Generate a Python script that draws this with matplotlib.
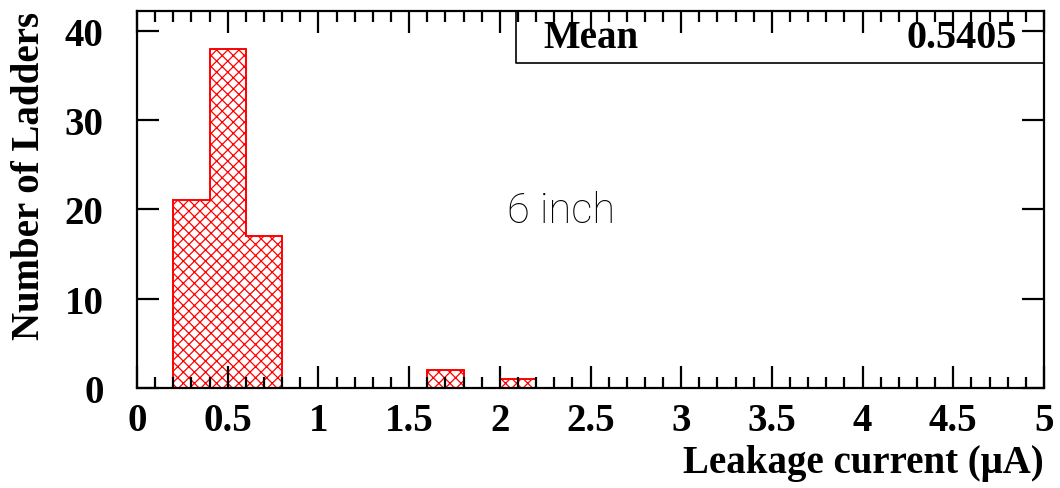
import matplotlib
matplotlib.use("Agg")
import matplotlib.pyplot as plt
import numpy as np

# histogram data: bin edges (uA) and ladder counts
edges = np.arange(0, 5.2, 0.2)
counts = [0, 21, 38, 17, 0, 0, 0, 0, 2, 0, 1, 0, 0,
          0, 0, 0, 0, 0, 0, 0, 0, 0, 0, 0, 0]
mean_txt = "0.5405"
label_txt = "6 inch"

plt.rcParams['font.family'] = ['Liberation Serif', 'DejaVu Serif']
plt.rcParams['hatch.linewidth'] = 0.9

fig = plt.figure(figsize=(10.6, 4.89), dpi=100)
ax = fig.add_axes([137/1060, 1 - 389/489, 907/1060, 377/489])

ax.stairs(counts, edges, baseline=0, fill=True, facecolor='none',
          edgecolor='red', hatch='xxx', linewidth=1.2)
ax.stairs(counts, edges, baseline=0, fill=False, color='red', linewidth=1.2)

ax.set_xlim(0, 5)
ax.set_ylim(0, 42.2)
ax.set_xticks(np.arange(0, 5.01, 0.5))
ax.set_xticklabels(['0', '0.5', '1', '1.5', '2', '2.5', '3', '3.5', '4', '4.5', '5'])
ax.set_xticks(np.arange(0, 5.01, 0.1), minor=True)
ax.set_yticks([0, 10, 20, 30, 40])

for s in ax.spines.values():
    s.set_linewidth(1.6)
ax.tick_params(axis='both', which='both', direction='in', top=True, right=True,
               width=1.6, labelsize=28)
ax.tick_params(axis='x', which='major', length=16, pad=10)
ax.tick_params(axis='x', which='minor', length=8)
ax.tick_params(axis='y', which='major', length=16, pad=24)
for lab in ax.get_xticklabels() + ax.get_yticklabels():
    lab.set_fontweight('bold')

ax.set_xlabel('Leakage current (μA)', fontsize=28, fontweight='bold',
              loc='right', labelpad=4)
ax.set_ylabel('Number of Ladders', fontsize=28, fontweight='bold',
              loc='top', labelpad=12)

# stats box
ax.plot([0.418, 0.418, 1.0], [1.0, 0.862, 0.862], transform=ax.transAxes,
        color='black', linewidth=1.2, clip_on=False)
ax.text(0.448, 0.931, 'Mean', transform=ax.transAxes, fontsize=28,
        fontweight='bold', ha='left', va='center')
ax.text(0.970, 0.931, mean_txt, transform=ax.transAxes, fontsize=29,
        fontweight='bold', ha='right', va='center')

ax.text(0.468, 0.47, label_txt, transform=ax.transAxes, fontsize=30,
        family=['Roboto', 'DejaVu Sans'], fontweight='light', ha='center',
        va='center', color='black')

fig.savefig('out.png', dpi=100)
